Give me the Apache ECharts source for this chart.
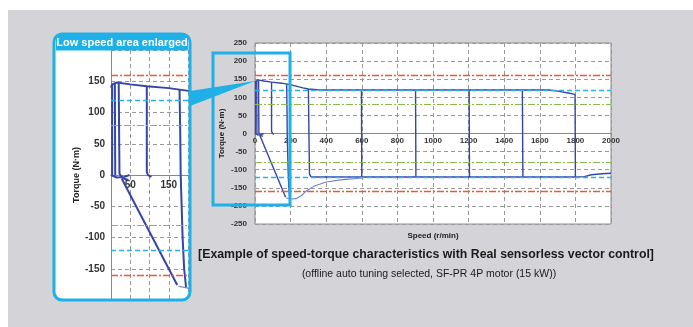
<!DOCTYPE html>
<html>
<head>
<meta charset="utf-8">
<script src="https://cdn.jsdelivr.net/npm/echarts@6/dist/echarts.min.js"></script>
<style>
  html, body { margin: 0; padding: 0; background: #fff; }
  #chart { width: 693px; height: 327px; }
</style>
</head>
<body>
<div id="chart"></div>
<script>
// torque limit reference levels (N·m)
const redLevels = [160, -160];
const cyanLevels = [120, -120];
const greenLevels = [80, -80];

// measured traces, [speed r/min, torque N·m]
const upperEnvelope = [[0, 140], [3, 145], [15, 148], [50, 145], [93, 142], [150, 139], [197, 135], [230, 131], [270, 126], [300, 123], [350, 121], [400, 120], [1650, 120], [1700, 117], [1760, 112], [1798, 108]];
const lowerEnvelope = [[315, -120], [1800, -120], [1850, -119], [1890, -114], [1950, -111], [2000, -110]];
const step300 = [[300, 123], [303, 0], [306, -112], [315, -120]];
const step600 = [[598, 120], [600, -120]];
const step900 = [[902, 120], [904, -120]];
const step1200 = [[1203, 120], [1205, -120]];
const step1500 = [[1502, 120], [1505, -120]];
const step1800 = [[1798, 108], [1800, -120]];
const step180 = [[178, 136], [180, 60], [181, 0], [186, -100], [190, -150], [195, -180]];
const step93 = [[93, 142], [93, 5], [96, 0], [105, -3]];
const diagonal = [[28, -6], [172, -176]];
const recovery = [[175, -178], [200, -181], [230, -180], [260, -172], [290, -158], [330, -146], [400, -134], [480, -128], [600, -123]];
const low1 = [[3, 145], [3, 0]];
const low2 = [[10, 146], [11, 0]];
const low3 = [[20, 147], [22, 2], [30, -5], [45, -8]];
const low4 = [[0, 0], [15, -4], [35, -3], [48, 0]];

const mainTicks = { min: -250, max: 250, step: 50 };
const speedTicks = { min: 0, max: 2000, step: 200 };
const insetTicks = { min: -200, max: 200, step: 50 };
const insetTorqueLabels = [150, 100, 50, 0, -50, -100, -150];
const insetSpeedLabels = [50, 150];

const chart = echarts.init(document.getElementById('chart'));
const FONT = "'Liberation Sans Narrow', 'Liberation Sans', Arial, sans-serif";
const BLUE = '#3446a6';
const CYAN = '#1eb0e6';

const traces = [upperEnvelope, lowerEnvelope, step300, step600, step900, step1200, step1500, step1800, step180, step93, diagonal, low1, low2, low3, low4];

function refLines() {
  const d = [];
  redLevels.forEach(v => d.push({ yAxis: v, lineStyle: { color: '#f05a2a', type: [7, 2, 2, 2], width: 1.3 } }));
  cyanLevels.forEach(v => d.push({ yAxis: v, lineStyle: { color: '#22b4ea', type: [5, 3], width: 1.3 } }));
  greenLevels.forEach(v => d.push({ yAxis: v, lineStyle: { color: '#86bd4a', type: [7, 2, 2, 2], width: 1.2 } }));
  return d;
}

const series = [];
[0, 1].forEach(gi => {
  series.push({
    type: 'line', xAxisIndex: gi, yAxisIndex: gi, data: [], silent: true,
    markLine: { symbol: 'none', silent: true, label: { show: false }, data: refLines(), animation: false }
  });
  traces.forEach(t => series.push({
    type: 'line', xAxisIndex: gi, yAxisIndex: gi, data: t, showSymbol: false, symbol: 'none',
    lineStyle: { color: BLUE, width: gi === 0 ? 2 : 1.4 }, animation: false, z: 3
  }));
  series.push({
    type: 'line', xAxisIndex: gi, yAxisIndex: gi, data: recovery, showSymbol: false, symbol: 'none',
    lineStyle: { color: '#7080d2', width: 1.1 }, animation: false, z: 3
  });
});

const axisLabelStyle = (size) => ({ fontSize: size, fontWeight: 'bold', color: '#333', fontFamily: FONT });

chart.setOption({
  animation: false,
  graphic: [
    { type: 'rect', z: -10, shape: { x: 8, y: 10, width: 685, height: 317 }, style: { fill: '#d4d4d8' } },
    { type: 'rect', z: -5, shape: { x: 54, y: 34, width: 136, height: 266, r: 8 }, style: { fill: '#fff' } },
    { type: 'rect', z: 55, shape: { x: 54, y: 34, width: 136, height: 266, r: 8 }, style: { fill: 'none', stroke: CYAN, lineWidth: 3 } },
    { type: 'rect', z: 50, shape: { x: 56, y: 35, width: 132, height: 15.5 }, style: { fill: CYAN } },
    { type: 'text', z: 51, x: 122, y: 43, style: { text: 'Low speed area enlarged', fill: '#fff', font: 'bold 11px ' + FONT, textAlign: 'center', textVerticalAlign: 'middle' } },
    { type: 'polygon', z: 60, shape: { points: [[190, 91], [190, 106], [255, 81]] }, style: { fill: CYAN } },
    { type: 'rect', z: 60, shape: { x: 213, y: 53, width: 77, height: 152 }, style: { fill: 'none', stroke: CYAN, lineWidth: 3 } },
    { type: 'text', x: 433, y: 236, style: { text: 'Speed (r/min)', fill: '#222', font: 'bold 8px ' + FONT, textAlign: 'center', textVerticalAlign: 'middle' } },
    { type: 'text', x: 426, y: 255, style: { text: '[Example of speed-torque characteristics with Real sensorless vector control]', fill: '#1a1a1a', font: 'bold 12.3px ' + FONT, textAlign: 'center', textVerticalAlign: 'middle' } },
    { type: 'text', x: 429, y: 274, style: { text: '(offline auto tuning selected, SF-PR 4P motor (15 kW))', fill: '#1a1a1a', font: '10.5px ' + FONT, textAlign: 'center', textVerticalAlign: 'middle' } }
  ],
  grid: [
    { left: 111, top: 50, width: 77, height: 250, show: false },
    { left: 255, top: 43, width: 356, height: 181, show: true, backgroundColor: '#fff', borderColor: '#8a8a8a', borderWidth: 1 }
  ],
  xAxis: [
    {
      gridIndex: 0, type: 'value', min: 0, max: 200, interval: 50, offset: -125,
      axisLine: { onZero: false, lineStyle: { color: '#888' } },
      axisTick: { show: true, length: 3, lineStyle: { color: '#888' } },
      axisLabel: { ...axisLabelStyle(10), margin: 5, formatter: v => insetSpeedLabels.includes(v) ? String(v) : '' },
      splitLine: { show: true, lineStyle: { color: '#999', type: [4, 3] } }
    },
    {
      gridIndex: 1, type: 'value', min: speedTicks.min, max: speedTicks.max, interval: speedTicks.step, offset: -90.5,
      axisLine: { onZero: false, lineStyle: { color: '#888' } },
      axisTick: { show: true, length: 2, lineStyle: { color: '#888' } },
      axisLabel: { ...axisLabelStyle(8), margin: 3, formatter: v => String(v) },
      splitLine: { show: true, lineStyle: { color: '#999', type: [4, 3] } }
    }
  ],
  yAxis: [
    {
      gridIndex: 0, type: 'value', min: insetTicks.min, max: insetTicks.max, interval: insetTicks.step,
      axisLine: { show: true, onZero: false, lineStyle: { color: '#888' } },
      axisTick: { show: false },
      axisLabel: { ...axisLabelStyle(10), margin: 6, formatter: v => insetTorqueLabels.includes(v) ? String(v) : '' },
      splitLine: { show: true, lineStyle: { color: '#999', type: [4, 3] } },
      name: 'Torque (N·m)', nameLocation: 'middle', nameGap: 30, nameRotate: 90,
      nameTextStyle: { fontSize: 9, fontWeight: 'bold', color: '#222', fontFamily: FONT }
    },
    {
      gridIndex: 1, type: 'value', min: mainTicks.min, max: mainTicks.max, interval: mainTicks.step,
      axisLine: { show: false, onZero: false },
      axisTick: { show: false },
      axisLabel: { ...axisLabelStyle(8), margin: 8 },
      splitLine: { show: true, lineStyle: { color: '#999', type: [4, 3] } },
      name: 'Torque (N·m)', nameLocation: 'middle', nameGap: 29, nameRotate: 90, nameMoveOverlap: false,
      nameTextStyle: { fontSize: 8, fontWeight: 'bold', color: '#222', fontFamily: FONT }
    }
  ],
  series: series
});
</script>
</body>
</html>
